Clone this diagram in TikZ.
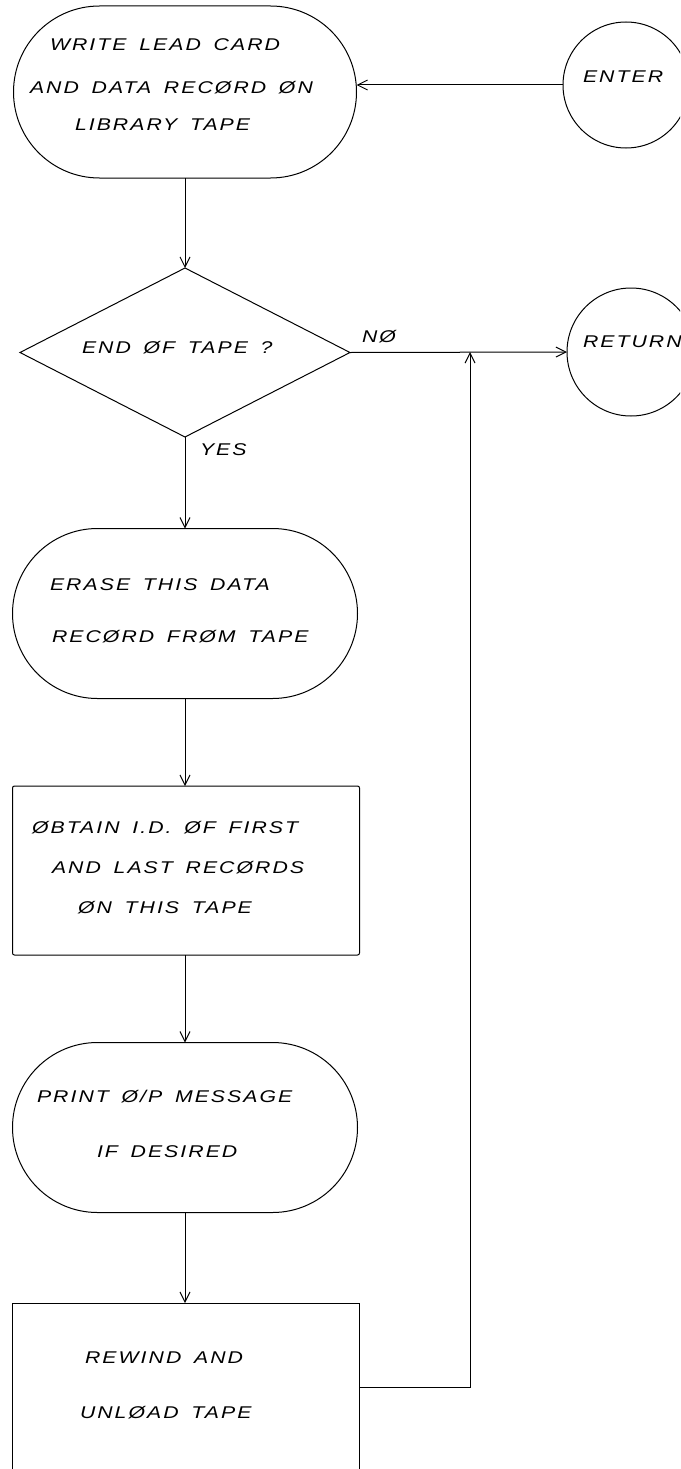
\documentclass[tikz,border=0pt]{standalone}
\usepackage{fontspec}
\newfontfamily\hand{Liberation Sans}[FakeStretch=1.25, LetterSpace=12, WordSpace=1.6]
\usetikzlibrary{shapes.geometric,shapes.misc,arrows.meta}

\begin{document}
\begin{tikzpicture}[x=1pt, y=-1pt,
  line width=1pt,
  every node/.style={inner sep=0pt, outer sep=0pt},
  terminal/.style={draw, rounded rectangle, minimum width=#1, minimum height=170pt},
  process/.style={draw, rectangle, rounded corners=2pt},
  decision/.style={draw, diamond, minimum width=330pt, minimum height=169pt},
  connector/.style={draw, circle, minimum size=#1},
  arr/.style={-{Straight Barb[length=10pt, width=10pt]}},
  lbl/.style={font=\hand\itshape\fontsize{17pt}{20pt}\selectfont, anchor=west}
]
\useasboundingbox (0,0) rectangle (680,1469);
\fill[white] (0,0) rectangle (680,1469);
\clip (0,0) rectangle (680,1469);

% shapes
\node[terminal=343pt, minimum height=172pt] (write) at (185,92) {};
\node[connector=126pt] (enter) at (626,85) {};
\node[decision] (dec) at (185,352.5) {};
\node[connector=128pt] (ret) at (631,352) {};
\node[terminal=345pt] (erase) at (185,613.5) {};
\node[process, minimum width=347pt, minimum height=169pt] (obtain) at (186,870.5) {};
\node[terminal=345pt] (print) at (185,1127.5) {};
\node[process, rounded corners=0pt, minimum width=347pt, minimum height=197pt] (rewind) at (185.5,1401.5) {};

% texts
\node[lbl] (write1) at (50,45) {WRITE LEAD CARD};
\node[lbl] (write2) at (30,88) {AND DATA RECØRD ØN};
\node[lbl] (write3) at (75,125) {LIBRARY TAPE};
\node[lbl] (entert) at (583,77) {ENTER};
\node[lbl] (dect) at (82,348) {END ØF TAPE ?};
\node[lbl] (not) at (362,337) {NØ};
\node[lbl] (yest) at (200,450) {YES};
\node[lbl] (rett) at (583,342) {RETURN};
\node[lbl] (erase1) at (50,585) {ERASE THIS DATA};
\node[lbl] (erase2) at (52,637) {RECØRD FRØM TAPE};
\node[lbl] (obtain1) at (32,828) {ØBTAIN I.D. ØF FIRST};
\node[lbl] (obtain2) at (52,868) {AND LAST RECØRDS};
\node[lbl] (obtain3) at (78,908) {ØN THIS TAPE};
\node[lbl] (print1) at (37,1097) {PRINT Ø/P MESSAGE};
\node[lbl] (print2) at (97,1152) {IF DESIRED};
\node[lbl] (rewind1) at (85,1358) {REWIND AND};
\node[lbl] (rewind2) at (80,1413) {UNLØAD TAPE};

% connectors
\draw[arr] (enter.west) -- (enter.west -| write.east);
\draw[arr] (write.south) -- (dec.north);
\draw[arr] (dec.east) -- (ret.west);
\draw[arr] (dec.south) -- (erase.north);
\draw[arr] (erase.south) -- (erase.south |- obtain.north);
\draw[arr] (obtain.south -| erase.south) -- (print.north);
\draw[arr] (print.south) -- (print.south |- rewind.north);
\coordinate (bend) at (470,1387);
\coordinate (meet) at (470,352);
\draw[arr] (rewind.east |- bend) -- (bend) -- (meet);
\end{tikzpicture}
\end{document}
